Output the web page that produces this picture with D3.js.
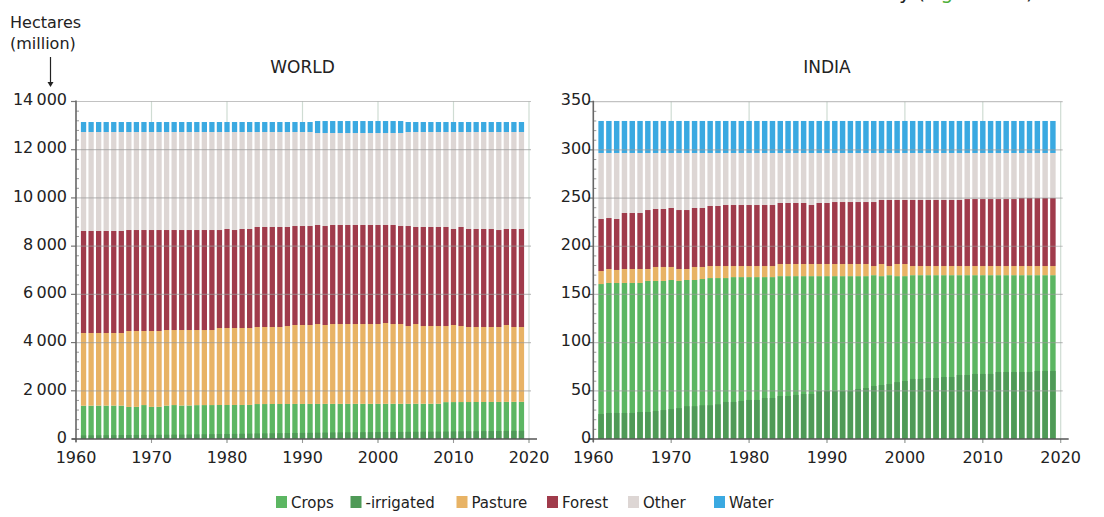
<!DOCTYPE html>
<html>
<head>
<meta charset="utf-8">
<script src="https://cdn.jsdelivr.net/npm/d3@7"></script>
<style>
  body { margin: 0; background: #fff; }
  text { font-family: "DejaVu Sans", sans-serif; fill: #222; }
</style>
</head>
<body>
<div id="chart"></div>
<script>
// land use, million hectares, 1961-2019
var years = d3.range(1961, 2020);

var xTicks = [1960, 1970, 1980, 1990, 2000, 2010, 2020];
var worldYTicks = [0, 2000, 4000, 6000, 8000, 10000, 12000, 14000];
var indiaYTicks = [0, 50, 100, 150, 200, 250, 300, 350];

var seriesNames = ["Crops", "-irrigated", "Pasture", "Forest", "Other", "Water"];
var seriesColors = ["#5cb662", "#4f9a57", "#e8b365", "#a03b4b", "#ddd6d4", "#3aa9e1"];

// WORLD
var worldCrops = [1380, 1382, 1384, 1385, 1386, 1384, 1330, 1332, 1408, 1332,
  1334, 1384, 1408, 1388, 1390, 1405, 1407, 1408, 1410, 1410,
  1412, 1412, 1414, 1450, 1450, 1452, 1452, 1453, 1454, 1454,
  1455, 1455, 1456, 1456, 1457, 1457, 1458, 1458, 1458, 1459,
  1459, 1460, 1460, 1460, 1461, 1461, 1462, 1462, 1530, 1532,
  1533, 1534, 1535, 1536, 1537, 1538, 1540, 1541, 1542];
var worldIrrigated = [150, 152, 155, 158, 160, 163, 165, 168, 170, 172,
  175, 177, 180, 182, 185, 192, 196, 200, 205, 208,
  213, 218, 224, 231, 234, 238, 242, 246, 250, 254,
  258, 262, 266, 272, 274, 277, 279, 282, 285, 287,
  289, 292, 294, 297, 299, 302, 304, 306, 309, 314,
  317, 320, 323, 326, 329, 332, 335, 338, 341];
var worldPasture = [3017, 3015, 3013, 3012, 3011, 3013, 3150, 3148, 3072, 3148,
  3146, 3137, 3113, 3133, 3131, 3116, 3114, 3113, 3194, 3194,
  3192, 3192, 3190, 3196, 3196, 3194, 3194, 3234, 3275, 3275,
  3274, 3315, 3273, 3314, 3313, 3313, 3312, 3312, 3312, 3311,
  3353, 3310, 3310, 3227, 3309, 3226, 3225, 3225, 3157, 3197,
  3154, 3112, 3111, 3110, 3109, 3108, 3189, 3105, 3104];
var worldForest = [4231, 4231, 4231, 4231, 4231, 4231, 4189, 4189, 4189, 4189,
  4189, 4148, 4148, 4148, 4148, 4148, 4148, 4148, 4065, 4107,
  4065, 4107, 4107, 4148, 4148, 4148, 4148, 4107, 4106, 4106,
  4106, 4107, 4106, 4107, 4107, 4107, 4107, 4107, 4107, 4107,
  4065, 4107, 4065, 4148, 4024, 4107, 4107, 4107, 4107, 3982,
  4107, 4065, 4065, 4065, 4065, 4023, 3982, 4065, 4065];
var worldOther = [4107, 4107, 4107, 4107, 4107, 4107, 4066, 4066, 4066, 4066,
  4066, 4066, 4066, 4066, 4066, 4066, 4066, 4066, 4066, 4024,
  4066, 4024, 4024, 3941, 3941, 3941, 3941, 3941, 3900, 3900,
  3900, 3816, 3858, 3816, 3816, 3816, 3816, 3816, 3816, 3816,
  3816, 3816, 3858, 3900, 3941, 3941, 3941, 3941, 3941, 4024,
  3941, 4024, 4024, 4024, 4024, 4066, 4024, 4024, 4024];
var worldWater = [414, 414, 414, 414, 414, 414, 414, 414, 414, 414,
  414, 414, 414, 414, 414, 414, 414, 414, 414, 414,
  414, 414, 414, 414, 414, 414, 414, 414, 414, 414,
  414, 497, 497, 497, 497, 497, 497, 497, 497, 497,
  497, 497, 497, 414, 414, 414, 414, 414, 414, 414,
  414, 414, 414, 414, 414, 414, 414, 414, 414];

// INDIA
var indiaCrops = [160.8, 161.9, 161.9, 161.9, 161.9, 161.9, 164, 164, 164, 165,
  164, 165, 165, 166, 167, 167, 167, 168, 168, 168,
  168, 168, 168, 169, 169, 169, 169, 169, 169, 169,
  169, 169, 169, 169, 169, 170, 169, 170, 169, 169,
  170, 170, 170, 170, 170, 170, 170, 170, 170, 170,
  170, 170, 170, 170, 170, 170, 170, 170, 170];
var indiaIrrigated = [25.9, 27, 27, 27, 27, 28, 28, 29, 30, 31,
  32, 34, 34, 35, 35, 36, 38.4, 38.4, 39.4, 40.5,
  40.5, 42.5, 42.5, 44.6, 44.6, 45.7, 46.7, 46.7, 49.8, 49.8,
  49.8, 49.8, 49.8, 51.9, 52.9, 55, 56, 57, 59, 60.2,
  62.3, 62.3, 63.3, 63.3, 64.3, 64.3, 66.4, 66.4, 67.5, 67.5,
  67.5, 69.5, 69.5, 69.5, 69.5, 69.5, 70.6, 70.6, 70.6];
var indiaPasture = [13.5, 14.5, 13.5, 14.5, 14.5, 14.5, 12.4, 14.5, 14.5, 13.5,
  12.4, 11.4, 13.5, 12.5, 12.5, 12.5, 12.5, 11.5, 11.5, 11.5,
  11.5, 11.5, 11.5, 12.6, 12.6, 12.6, 12.6, 12.6, 12.6, 12.6,
  12.6, 12.6, 12.6, 12.6, 12.6, 9.5, 12.6, 9.5, 12.6, 12.6,
  9.5, 9.5, 9.5, 9.5, 9.5, 9.5, 9.5, 9.5, 9.5, 9.5,
  9.5, 9.5, 9.5, 9.5, 9.5, 9.5, 9.5, 9.5, 9.5];
var indiaForest = [54, 52.9, 52.9, 58.1, 58.1, 58.1, 61.2, 60.2, 60.2, 61.2,
  61.2, 61.2, 61.2, 61.2, 62.3, 62.3, 63.3, 63.3, 63.3, 63.3,
  63.3, 63.3, 63.3, 63.3, 63.3, 63.3, 63.3, 61.2, 63.3, 63.3,
  64.3, 64.3, 64.3, 64.3, 64.3, 66.4, 66.4, 68.5, 66.4, 66.4,
  68.5, 68.5, 68.5, 68.5, 68.5, 68.5, 68.5, 69.5, 69.5, 69.5,
  69.5, 69.5, 69.5, 69.5, 70.6, 70.6, 70.6, 70.6, 70.6];
var indiaOther = [68.5, 67.5, 68.5, 62.3, 62.3, 62.3, 59.2, 58.1, 58.1, 57.1,
  59.2, 59.2, 57.1, 57.1, 55, 55, 54, 54, 54, 54,
  54, 54, 54, 51.9, 51.9, 51.9, 51.9, 54, 51.9, 51.9,
  50.9, 50.9, 50.9, 50.9, 50.9, 50.9, 48.8, 48.8, 48.8, 48.8,
  48.8, 48.8, 48.8, 48.8, 48.8, 48.8, 48.8, 47.8, 47.8, 47.8,
  47.8, 47.8, 47.8, 47.8, 46.7, 46.7, 46.7, 46.7, 46.7];
var indiaWater = [33.2, 33.2, 33.2, 33.2, 33.2, 33.2, 33.2, 33.2, 33.2, 33.2,
  33.2, 33.2, 33.2, 33.2, 33.2, 33.2, 33.2, 33.2, 33.2, 33.2,
  33.2, 33.2, 33.2, 33.2, 33.2, 33.2, 33.2, 33.2, 33.2, 33.2,
  33.2, 33.2, 33.2, 33.2, 33.2, 33.2, 33.2, 33.2, 33.2, 33.2,
  33.2, 33.2, 33.2, 33.2, 33.2, 33.2, 33.2, 33.2, 33.2, 33.2,
  33.2, 33.2, 33.2, 33.2, 33.2, 33.2, 33.2, 33.2, 33.2];

var svgWidth = 1104;
var svgHeight = 517;

var svg = d3.select("#chart")
  .append("svg")
  .attr("width", svgWidth)
  .attr("height", svgHeight);

// thin space as thousands separator, like "14 000"
var spaced = d3.formatLocale({decimal: ".", thousands: "\u2009", grouping: [3], currency: ["", ""]}).format(",");

var panels = [
  {title: "WORLD", left: 76, right: 529, top: 101.5, bottom: 439, labelGap: 9, yTicks: worldYTicks, fmt: spaced,
   crops: worldCrops, irrigated: worldIrrigated, pasture: worldPasture, forest: worldForest, other: worldOther, water: worldWater},
  {title: "INDIA", left: 593.3, right: 1060.7, top: 101.7, bottom: 439, labelGap: 2, yTicks: indiaYTicks, fmt: d3.format("d"),
   crops: indiaCrops, irrigated: indiaIrrigated, pasture: indiaPasture, forest: indiaForest, other: indiaOther, water: indiaWater}
];

var stackKeys = ["crops", "pasture", "forest", "other", "water"];
var stackColors = [seriesColors[0], seriesColors[2], seriesColors[3], seriesColors[4], seriesColors[5]];

panels.forEach(function(p) {
  var rows = years.map(function(yr, i) {
    return {year: yr, crops: p.crops[i], irrigated: p.irrigated[i], pasture: p.pasture[i],
            forest: p.forest[i], other: p.other[i], water: p.water[i]};
  });

  var x = d3.scaleLinear().domain([1960, 2020]).range([p.left, p.right]);
  var yMax = p.yTicks[p.yTicks.length - 1];
  var y = d3.scaleLinear().domain([0, yMax]).range([p.bottom, p.top]);
  var bw = (x(1961) - x(1960)) * 0.7;
  var g = svg.append("g");

  // vertical grid (behind the bars)
  g.selectAll(".vgrid")
    .data(xTicks.slice(1))
    .enter().append("line")
    .attr("x1", d => x(d)).attr("x2", d => x(d))
    .attr("y1", p.top).attr("y2", p.bottom + 4)
    .attr("stroke", "#cfdcd3")
    .attr("stroke-width", 1.2);

  // stacked bars
  var stacked = d3.stack().keys(stackKeys)(rows);
  stacked.forEach(function(layer, k) {
    g.append("g").attr("fill", stackColors[k])
      .selectAll("rect")
      .data(layer)
      .enter().append("rect")
      .attr("x", d => x(d.data.year) - bw / 2)
      .attr("width", bw)
      .attr("y", d => y(d[1]))
      .attr("height", d => y(d[0]) - y(d[1]));
  });

  // irrigated part sits inside the crops bar
  g.append("g").attr("fill", seriesColors[1])
    .selectAll("rect")
    .data(rows)
    .enter().append("rect")
    .attr("x", d => x(d.year) - bw / 2)
    .attr("width", bw)
    .attr("y", d => y(d.irrigated))
    .attr("height", d => y(0) - y(d.irrigated));

  // horizontal grid, drawn over the bars
  g.selectAll(".hgrid")
    .data(p.yTicks.slice(1))
    .enter().append("line")
    .attr("x1", p.left).attr("x2", p.right + 2)
    .attr("y1", d => y(d)).attr("y2", d => y(d))
    .attr("stroke", "#9a9a9a")
    .attr("stroke-opacity", 0.6)
    .attr("stroke-width", 1.2);

  // minor ticks on the y axis, 5 per major step
  var step = p.yTicks[1] - p.yTicks[0];
  var minor = d3.range(0, yMax, step / 5).filter(function(v) { return v % step !== 0; });
  g.selectAll(".minor")
    .data(minor)
    .enter().append("line")
    .attr("x1", p.left).attr("x2", p.left + 3)
    .attr("y1", d => y(d)).attr("y2", d => y(d))
    .attr("stroke", "#999");

  // major ticks
  g.selectAll(".major")
    .data(p.yTicks)
    .enter().append("line")
    .attr("x1", p.left - 5).attr("x2", p.left)
    .attr("y1", d => y(d)).attr("y2", d => y(d))
    .attr("stroke", "#777")
    .attr("stroke-width", 1.2);

  // x ticks
  g.selectAll(".xtick")
    .data(xTicks)
    .enter().append("line")
    .attr("x1", d => x(d)).attr("x2", d => x(d))
    .attr("y1", p.bottom).attr("y2", p.bottom + 4)
    .attr("stroke", "#999");

  // axis lines
  g.append("line")
    .attr("x1", p.left).attr("x2", p.left)
    .attr("y1", p.top - 1).attr("y2", p.bottom + 3)
    .attr("stroke", "#666").attr("stroke-width", 1.6);
  g.append("line")
    .attr("x1", p.left - 4).attr("x2", p.right + 8)
    .attr("y1", p.bottom).attr("y2", p.bottom)
    .attr("stroke", "#555").attr("stroke-width", 1.6);

  // tick labels
  g.selectAll(".ylab")
    .data(p.yTicks)
    .enter().append("text")
    .attr("x", p.left - p.labelGap)
    .attr("y", d => y(d) - 2)
    .attr("dy", "0.36em")
    .attr("text-anchor", "end")
    .attr("font-size", 16)
    .text(d => p.fmt(d));

  g.selectAll(".xlab")
    .data(xTicks)
    .enter().append("text")
    .attr("x", d => x(d))
    .attr("y", 463)
    .attr("text-anchor", "middle")
    .attr("font-size", 16)
    .text(d => d);

  g.append("text")
    .attr("x", (p.left + p.right) / 2)
    .attr("y", 73)
    .attr("text-anchor", "middle")
    .attr("font-size", 17)
    .text(p.title);
});

// unit label and arrow
svg.append("text").attr("x", 10).attr("y", 28).attr("font-size", 16).text("Hectares");
svg.append("text").attr("x", 10).attr("y", 49).attr("font-size", 16).text("(million)");
svg.append("line")
  .attr("x1", 50.5).attr("x2", 50.5)
  .attr("y1", 57).attr("y2", 83)
  .attr("stroke", "#222").attr("stroke-width", 1.2);
svg.append("path")
  .attr("d", "M47.5,82 L53.5,82 L50.5,87 Z")
  .attr("fill", "#222");

// bottom of a caption line that is cut off at the top edge, as in the reference
var cut = svg.append("text").attr("x", 899).attr("y", -1).attr("font-size", 20);
cut.append("tspan").text("y (");
cut.append("tspan").style("fill", "#4caf3a").text("Figure 1");
cut.append("tspan").attr("x", 1026).text(")");

// legend
var legendX = [276, 350.5, 456.5, 547, 628, 714];
var legend = svg.selectAll(".legend")
  .data(seriesNames)
  .enter().append("g")
  .attr("transform", (d, i) => `translate(${legendX[i]}, 496)`);
legend.append("rect")
  .attr("width", 11).attr("height", 12)
  .attr("fill", (d, i) => seriesColors[i]);
legend.append("text")
  .attr("x", 15).attr("y", 11.5)
  .attr("font-size", 15)
  .text(d => d);
</script>
</body>
</html>
